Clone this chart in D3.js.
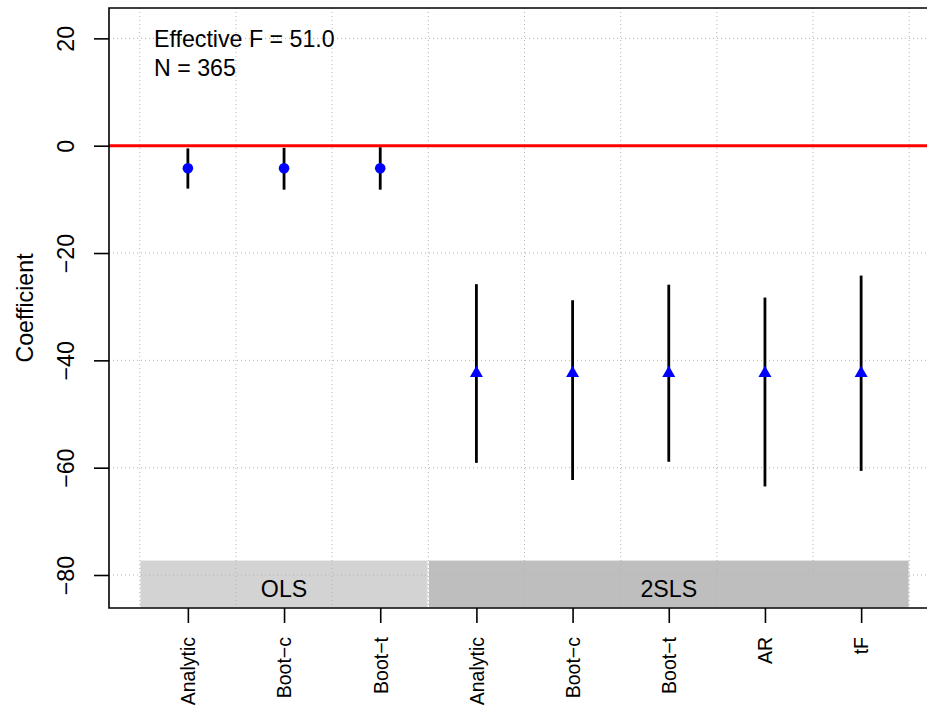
<!DOCTYPE html>
<html>
<head>
<meta charset="utf-8">
<script src="https://cdn.jsdelivr.net/npm/d3@7"></script>
<style>
  html, body { margin: 0; padding: 0; background: #fff; overflow: hidden; }
  svg { display: block; overflow: hidden; font-family: "Liberation Sans", Arial, Helvetica, sans-serif; }
</style>
</head>
<body>
<svg id="chart" width="927" height="708"></svg>
<script>
// ---- data ----
const categories = ["Analytic", "Boot−c", "Boot−t", "Analytic", "Boot−c", "Boot−t", "AR", "tF"];
const groups     = ["OLS", "OLS", "OLS", "2SLS", "2SLS", "2SLS", "2SLS", "2SLS"];
const estimates  = [-4.2, -4.2, -4.2, -42.4, -42.4, -42.4, -42.4, -42.4];
const ciUpper    = [-0.5, -0.4, -0.3, -25.8, -28.8, -25.9, -28.3, -24.2];
const ciLower    = [-8.0, -8.2, -8.2, -59.1, -62.3, -58.9, -63.5, -60.6];
const yTicks     = [-80, -60, -40, -20, 0, 20];
const bandNames  = ["OLS", "2SLS"];
const bandStart  = [1, 4];
const bandEnd    = [3, 8];
const bandTop    = -77.2;
const annotations = ["Effective F = 51.0", "N = 365"];

// ---- layout ----
const svg = d3.select("#chart");
const pL = 109, pR = 940, pT = 8, pB = 608;
const x = d3.scaleLinear().domain([0.18, 8.82]).range([pL, pR]);
const y = d3.scaleLinear().domain([-86.15, 25.66]).range([pB, pT]);
const baseFont = 23.2;
const idx = d3.range(1, categories.length + 1);

// group bands
svg.append("g").selectAll("rect").data(bandNames).join("rect")
  .attr("x", (d, i) => x(bandStart[i] - 0.5))
  .attr("y", y(bandTop))
  .attr("width", (d, i) => x(bandEnd[i] + 0.5) - x(bandStart[i] - 0.5))
  .attr("height", (d, i) => pB - y(bandTop))
  .attr("fill", (d, i) => i === 0 ? "#d3d3d3" : "#bebebe")
  .attr("stroke", "#ffffff")
  .attr("stroke-width", 1.2);

svg.append("g").selectAll("text").data(bandNames).join("text")
  .attr("x", (d, i) => (x(bandStart[i] - 0.5) + x(bandEnd[i] + 0.5)) / 2)
  .attr("y", 596.5)
  .attr("text-anchor", "middle")
  .attr("font-size", baseFont)
  .attr("fill", "#000")
  .text(d => d);

// grid
const gridG = svg.append("g")
  .attr("stroke", "#b4b4b4").attr("stroke-width", 1).attr("stroke-dasharray", "1,3");
gridG.selectAll("line.v").data(d3.range(0.5, categories.length + 1, 1)).join("line")
  .attr("class", "v")
  .attr("x1", d => x(d)).attr("x2", d => x(d))
  .attr("y1", pT).attr("y2", pB);
gridG.selectAll("line.h").data(yTicks).join("line")
  .attr("class", "h")
  .attr("x1", pL).attr("x2", pR)
  .attr("y1", d => y(d)).attr("y2", d => y(d));

// zero reference line
svg.append("line")
  .attr("x1", pL).attr("x2", pR)
  .attr("y1", y(0)).attr("y2", y(0))
  .attr("stroke", "#ff0000").attr("stroke-width", 3);

// confidence intervals
svg.append("g").selectAll("line").data(idx).join("line")
  .attr("x1", d => x(d)).attr("x2", d => x(d))
  .attr("y1", (d, i) => y(ciUpper[i])).attr("y2", (d, i) => y(ciLower[i]))
  .attr("stroke", "#000").attr("stroke-width", 2.8);

// points
const ptG = svg.append("g");
idx.forEach((d, i) => {
  const cx = x(d), cy = y(estimates[i]);
  if (groups[i] === "OLS") {
    ptG.append("circle").attr("cx", cx).attr("cy", cy).attr("r", 5.3).attr("fill", "#0000ff");
  } else {
    const r = 7.5, xc = 6.5, yc = 3.75;
    ptG.append("path")
      .attr("d", `M${cx},${cy - r}L${cx + xc},${cy + yc}L${cx - xc},${cy + yc}Z`)
      .attr("fill", "#0000ff");
  }
});

// frame (left, top, bottom; right side lies outside the picture)
svg.append("path")
  .attr("d", `M${pR},${pT}L${pL},${pT}L${pL},${pB}L${pR},${pB}`)
  .attr("fill", "none").attr("stroke", "#000").attr("stroke-width", 1.6);

// y axis
const yAxis = svg.append("g")
  .attr("transform", `translate(${pL},0)`)
  .call(d3.axisLeft(y).tickValues(yTicks).tickSize(15)
    .tickFormat(d => d < 0 ? "−" + Math.abs(d) : String(d)));
yAxis.select(".domain").remove();
yAxis.selectAll(".tick line").attr("stroke", "#000").attr("stroke-width", 1.6);
yAxis.selectAll(".tick text")
  .attr("x", null).attr("dy", null)
  .attr("transform", `translate(${74 - pL},0) rotate(-90)`)
  .attr("text-anchor", "middle")
  .attr("font-size", baseFont)
  .attr("font-family", "Liberation Sans, Arial, sans-serif")
  .attr("fill", "#000");

// x axis
const xAxis = svg.append("g")
  .attr("transform", `translate(0,${pB})`)
  .call(d3.axisBottom(x).tickValues(idx).tickSize(15)
    .tickFormat(d => categories[d - 1]));
xAxis.select(".domain").remove();
xAxis.selectAll(".tick line").attr("stroke", "#000").attr("stroke-width", 1.6);
xAxis.selectAll(".tick text")
  .attr("y", null).attr("dy", null)
  .attr("transform", "translate(6.8,29) rotate(-90)")
  .attr("text-anchor", "end")
  .attr("font-size", 19.5)
  .attr("font-family", "Liberation Sans, Arial, sans-serif")
  .attr("fill", "#000");

// y label
svg.append("text")
  .attr("transform", `translate(32.5,${(pT + pB) / 2}) rotate(-90)`)
  .attr("text-anchor", "middle")
  .attr("font-size", baseFont)
  .attr("fill", "#000")
  .text("Coefficient");

// annotations
svg.append("g").selectAll("text").data(annotations).join("text")
  .attr("x", 154)
  .attr("y", (d, i) => 46.7 + i * 29.3)
  .attr("font-size", baseFont)
  .attr("fill", "#000")
  .text(d => d);
</script>
</body>
</html>
